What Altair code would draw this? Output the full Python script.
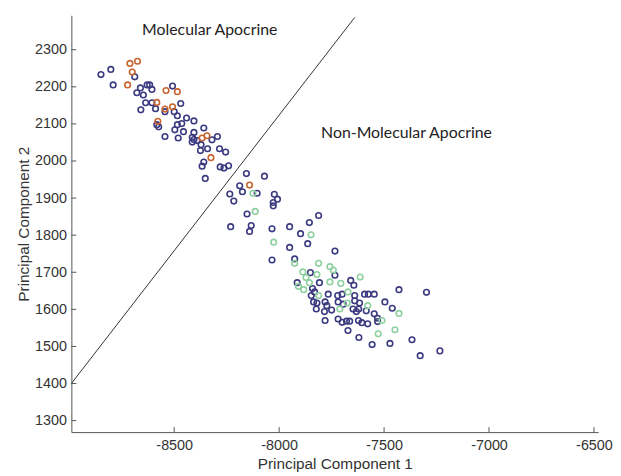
import altair as alt
import pandas as pd

# ---- data ----
orange_x = [-8711, -8675, -8700, -8722, -8539, -8485, -8583, -8544, -8508, -8578,
            -8367, -8344, -8325, -8141]
orange_y = [2263, 2269, 2240, 2205, 2190, 2187, 2158, 2140, 2146, 2107,
            2062, 2068, 2009, 1935]

navy_x = [-8849, -8802, -8791, -8688, -8661, -8629, -8617, -8606, -8678, -8647,
          -8508, -8636, -8606, -8589, -8659, -8544, -8469, -8500, -8485, -8583,
          -8574, -8441, -8406, -8464, -8485, -8497, -8456, -8544, -8481, -8406,
          -8359, -8414, -8406, -8414, -8391, -8320, -8294, -8372, -8341, -8375,
          -8284, -8255, -8359, -8367, -8281, -8263, -8241, -8352, -8156, -8188,
          -8175, -8235, -8216, -8153,
          -8070, -8105, -8023, -8008, -8028, -8028, -7812, -8231, -8133, -8141,
          -8034, -7950, -7856, -7898, -7864, -7950, -8034, -7926, -7734, -7851,
          -7734, -7914, -7808, -7659, -7644, -7429, -7298, -7841, -7831, -7847,
          -7766, -7721, -7700, -7640, -7593, -7575, -7547, -7836, -7820, -7781,
          -7773, -7719, -7695, -7640, -7617, -7496, -7461, -7823, -7784, -7750,
          -7648, -7632, -7621, -7585, -7547, -7531, -7781, -7719, -7700, -7679,
          -7664, -7622, -7606, -7578, -7531, -7672, -7620, -7557, -7472, -7367,
          -7328, -7234]
navy_y = [2233, 2247, 2205, 2227, 2197, 2205, 2205, 2193, 2184, 2178,
          2202, 2157, 2157, 2141, 2138, 2133, 2155, 2133, 2122, 2098,
          2092, 2116, 2108, 2101, 2098, 2084, 2079, 2066, 2062, 2077,
          2089, 2064, 2058, 2051, 2055, 2057, 2066, 2044, 2033, 2028,
          2033, 2024, 1997, 1986, 1984, 1981, 1987, 1953, 1966, 1933,
          1917, 1911, 1892, 1857,
          1959, 1913, 1910, 1897, 1888, 1879, 1853, 1823, 1826, 1810,
          1817, 1823, 1834, 1804, 1777, 1767, 1733, 1736, 1757, 1699,
          1692, 1672, 1672, 1678, 1665, 1653, 1646, 1656, 1647, 1637,
          1641, 1637, 1641, 1637, 1641, 1641, 1641, 1620, 1617, 1620,
          1610, 1620, 1614, 1623, 1617, 1620, 1603, 1601, 1594, 1598,
          1601, 1594, 1601, 1596, 1588, 1576, 1570, 1574, 1565, 1568,
          1568, 1570, 1564, 1561, 1567, 1543, 1524, 1505, 1508, 1518,
          1475, 1488]

green_x = [-8125, -8114, -7848, -8026, -7926, -7812, -7758, -7742, -7614, -7887,
           -7872, -7820, -7856, -7758, -7706, -7883, -7812, -7672, -7578, -7675,
           -7711, -7510, -7429, -7448, -7528, -7908]
green_y = [1913, 1864, 1801, 1781, 1724, 1724, 1715, 1706, 1687, 1701,
           1686, 1694, 1672, 1674, 1670, 1653, 1637, 1647, 1610, 1617,
           1601, 1570, 1589, 1545, 1534, 1662]

group_names = ["orange", "navy", "green"]
group_colors = ["#c8652e", "#3b3a80", "#8fd0a0"]

x_ticks = [-8500, -8000, -7500, -7000, -6500]
y_ticks = [1300, 1400, 1500, 1600, 1700, 1800, 1900, 2000, 2100, 2200, 2300]
x_domain = [-8990, -6480]
y_domain = [1269, 2393]

divider_x = [-8990, -7640]
divider_y = [1400, 2387]

ann_labels = ["Molecular Apocrine", "Non-Molecular Apocrine"]
ann_x = [-8653, -7800]
ann_y = [2354, 2074]

# ---- tables ----
points = pd.DataFrame({
    "pc1": navy_x + green_x + orange_x,
    "pc2": navy_y + green_y + orange_y,
    "group": ["navy"] * len(navy_x) + ["green"] * len(green_x) + ["orange"] * len(orange_x),
})
divider = pd.DataFrame({"pc1": divider_x, "pc2": divider_y})
ann = pd.DataFrame({"label": ann_labels, "pc1": ann_x, "pc2": ann_y})
xt = pd.DataFrame({"pc1": x_ticks})
yt = pd.DataFrame({"pc2": y_ticks})

xaxis = alt.Axis(title="Principal Component 1", values=x_ticks, labelExpr="'' + datum.value",
                 labelPadding=7, titlePadding=4)
yaxis = alt.Axis(title="Principal Component 2", values=y_ticks, labelExpr="'' + datum.value",
                 labelPadding=5, titlePadding=3)
X = alt.X("pc1:Q", scale=alt.Scale(domain=x_domain, nice=False, zero=False), axis=xaxis)
Y = alt.Y("pc2:Q", scale=alt.Scale(domain=y_domain, nice=False, zero=False), axis=yaxis)

pts = alt.Chart(points).mark_point(shape="circle", filled=False, size=32, strokeWidth=1.6,
                                   opacity=1).encode(
    x=X, y=Y,
    color=alt.Color("group:N", scale=alt.Scale(domain=group_names, range=group_colors), legend=None),
)

line = alt.Chart(divider).mark_line(color="#333333", strokeWidth=1).encode(x=X, y=Y)

text = alt.Chart(ann).mark_text(align="left", baseline="middle", font="Lato", fontSize=16,
                                color="#222222").encode(x=X, y=Y, text="label:N")

xticks = alt.Chart(xt).mark_rule(color="#555555").encode(x=X, y=alt.value(421), y2=alt.value(416))
yticks = alt.Chart(yt).mark_rule(color="#555555").encode(y=Y, x=alt.value(0), x2=alt.value(5))

chart = alt.layer(line, pts, text, xticks, yticks).properties(
    width=532, height=421,
    padding={"left": 64, "top": 5, "right": 15, "bottom": 40},
    autosize=alt.AutoSizeParams(type="none"),
).configure_view(stroke=None).configure_axis(
    grid=False, tickSize=0, domainColor="#555555", domainWidth=1,
    labelFont="Liberation Sans", labelFontSize=14.5, labelColor="#333333",
    titleFont="Liberation Sans", titleFontSize=15.5, titleFontWeight="normal", titleColor="#333333",
)

chart.save("out.html", embed_options={"renderer": "svg", "actions": False})
